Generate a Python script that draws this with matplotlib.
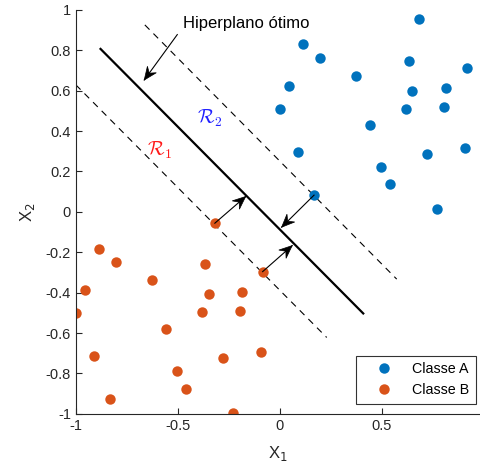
import matplotlib
matplotlib.use("Agg")
import matplotlib.pyplot as plt
import numpy as np
from matplotlib.patches import Polygon
from matplotlib.transforms import IdentityTransform

plt.rcParams["font.family"] = ["Liberation Sans", "DejaVu Sans"]
plt.rcParams["mathtext.fontset"] = "cm"

# Classe A (blue)
a_x = [0.683, 0.114, 0.198, 0.373, 0.632, 0.917, 0.044, 0.649, 0.812, 0.002,
       0.616, 0.804, 0.441, 0.088, 0.720, 0.907, 0.497, 0.541, 0.167, 0.770]
a_y = [0.957, 0.830, 0.761, 0.673, 0.749, 0.714, 0.625, 0.600, 0.612, 0.510,
       0.510, 0.521, 0.432, 0.297, 0.289, 0.315, 0.221, 0.137, 0.083, 0.013]

# Classe B (orange)
b_x = [-0.319, -0.887, -0.802, -0.368, -0.085, -0.627, -0.956, -0.350, -0.188, -0.998,
       -0.384, -0.196, -0.559, -0.912, -0.281, -0.093, -0.503, -0.459, -0.833, -0.230]
b_y = [-0.056, -0.182, -0.249, -0.259, -0.296, -0.337, -0.385, -0.409, -0.398, -0.500,
       -0.498, -0.490, -0.579, -0.713, -0.723, -0.695, -0.790, -0.875, -0.927, -0.997]

# hyperplane and margins (endpoints)
hyper_x = [-0.879, 0.408]
hyper_y = [0.807, -0.503]
upper_x = [-0.662, 0.572]
upper_y = [0.926, -0.333]
lower_x = [-1.0, 0.229]
lower_y = [0.629, -0.622]

# arrows: (start, end)
arrows = [
    ((-0.319, -0.056), (-0.168, 0.076)),
    ((-0.085, -0.296), (0.060, -0.167)),
    ((0.167, 0.083), (0.008, -0.076)),
    ((-0.503, 0.878), (-0.665, 0.653)),
]


def stealth_arrow(ax, p0, p1, head_len=13, head_w=5.5, back=4.5):
    ax.plot([p0[0], p1[0]], [p0[1], p1[1]], color="black", lw=0.8)
    s = ax.transData.transform(p0)
    t = ax.transData.transform(p1)
    d = (t - s) / np.hypot(*(t - s))
    n = np.array([-d[1], d[0]])
    base = t - d * head_len
    pts = [t, base + n * head_w, t - d * (head_len - back), base - n * head_w]
    ax.add_patch(Polygon(pts, closed=True, facecolor="black", edgecolor="black",
                         lw=0.5, transform=IdentityTransform(), zorder=5))


fig = plt.figure(figsize=(4.8, 4.74), dpi=100)
ax = fig.add_axes([0.158, 0.127, 0.842, 0.852])
ax.set_xlim(-1, 0.98)
ax.set_ylim(-1, 1)

ax.plot(hyper_x, hyper_y, color="black", lw=1.6)
ax.plot(upper_x, upper_y, color="black", lw=0.8, ls=(0, (6, 5)))
ax.plot(lower_x, lower_y, color="black", lw=0.8, ls=(0, (6, 5)))

ax.plot(a_x, a_y, "o", color="#0072BD", ms=7.5, mec="none", label="Classe A")
ax.plot(b_x, b_y, "o", color="#D95319", ms=7.5, mec="none", label="Classe B")

for p0, p1 in arrows:
    stealth_arrow(ax, p0, p1)

ax.text(-0.475, 0.935, "Hiperplano ótimo", ha="left", va="center", fontsize=12)

ax.text(-0.588, 0.307, r"$\mathcal{R}_1$", color="#ff1a1a", fontsize=14,
        ha="center", va="center")
ax.text(-0.343, 0.464, r"$\mathcal{R}_2$", color="#2020ff", fontsize=14,
        ha="center", va="center")

ax.set_xticks([-1, -0.5, 0, 0.5])
ax.set_xticklabels(["-1", "-0.5", "0", "0.5"])
yt = np.round(np.arange(-1, 1.01, 0.2), 1)
ax.set_yticks(yt)
ax.set_yticklabels([("%g" % v) if v != 0 else "0" for v in yt])
ax.tick_params(direction="in", labelsize=10.5, colors="#262626", length=4)
for s in ["top", "right"]:
    ax.spines[s].set_visible(False)
for s in ["left", "bottom"]:
    ax.spines[s].set_color("#262626")

ax.set_xlabel("X$_1$", fontsize=12, color="#262626", labelpad=8,
              math_fontfamily="dejavusans")
ax.set_ylabel("X$_2$", fontsize=12, color="#262626", labelpad=6,
              math_fontfamily="dejavusans")

leg = ax.legend(loc="lower right", fontsize=10.3, frameon=True, fancybox=False,
                edgecolor="black", borderpad=0.45, handlelength=3.1,
                handletextpad=0.4, borderaxespad=0, bbox_to_anchor=(0.99, 0.025))
leg.get_frame().set_linewidth(0.8)

fig.savefig("out.png", dpi=100)
